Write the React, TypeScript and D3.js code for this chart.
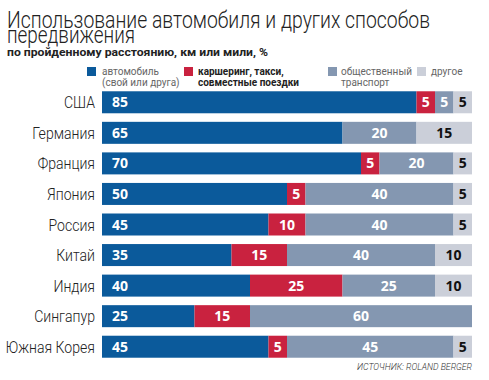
import React from "react";
import * as d3 from "d3";

const countries = ["США", "Германия", "Франция", "Япония", "Россия", "Китай", "Индия", "Сингапур", "Южная Корея"];
const car = [85, 65, 70, 50, 45, 35, 40, 25, 45];
const sharing = [5, 0, 5, 5, 10, 15, 25, 15, 5];
const transit = [5, 20, 20, 40, 40, 40, 25, 60, 45];
const other = [5, 15, 5, 5, 5, 10, 10, 0, 5];
const seriesNames = ["car", "sharing", "transit", "other"];
const colors = ["#0b5a9b", "#c9223f", "#8497b1", "#cbcfd9"];
const labelColors = ["#fff", "#fff", "#fff", "#111"];

const W = 489, H = 380;

export default function App() {
  const data = countries.map((c, i) => ({ country: c, car: car[i], sharing: sharing[i], transit: transit[i], other: other[i] }));
  const stack = d3.stack<any>().keys(seriesNames)(data);
  const x = d3.scaleLinear().domain([0, 100]).range([102, 472]);
  const y = d3.scaleBand().domain(countries).range([87, 362]).paddingInner(0.28).paddingOuter(0.14);
  const font = "Roboto, 'Open Sans', sans-serif";
  const numFont = "'Open Sans', sans-serif";
  return (
    <svg width={W} height={H} style={{ position: "absolute", left: 0, top: 0, background: "#fff" }}>
      <text x={7} y={28} fontFamily={font} fontWeight={300} fontSize={23} fill="#222" textLength={423} lengthAdjust="spacingAndGlyphs">Использование автомобиля и других способов</text>
      <text x={7} y={43} fontFamily={font} fontWeight={300} fontSize={23} fill="#222" textLength={128} lengthAdjust="spacingAndGlyphs">передвижения</text>
      <text x={7} y={56} fontFamily={font} fontWeight={700} fontSize={11.5} fill="#222" textLength={261} lengthAdjust="spacingAndGlyphs">по пройденному расстоянию, км или мили, %</text>
      {/* legend */}
      <g fontFamily={font} fontSize={10}>
        <rect x={87} y={67} width={9} height={9} fill={colors[0]} />
        <text x={102} y={75} fill="#666">автомобиль</text>
        <text x={102} y={86} fill="#666">(свой или друга)</text>
        <rect x={184} y={67} width={9} height={9} fill={colors[1]} />
        <text x={198} y={75} fill="#222" fontWeight={700}>каршеринг, такси,</text>
        <text x={198} y={86} fill="#222" fontWeight={700}>совместные поездки</text>
        <rect x={328} y={67} width={9} height={9} fill={colors[2]} />
        <text x={341} y={75} fill="#666">общественный</text>
        <text x={341} y={86} fill="#666">транспорт</text>
        <rect x={417} y={67} width={9} height={9} fill={colors[3]} />
        <text x={431} y={75} fill="#666">другое</text>
      </g>
      {countries.map((c) => (
        <g key={c} transform={`translate(95,${(y(c) as number) + y.bandwidth() / 2 + 6}) scale(0.88,1)`}>
          <text x={0} y={0} textAnchor="end" fontFamily={font} fontWeight={300} fontSize={16} fill="#222">{c}</text>
        </g>
      ))}
      {stack.map((s, si) => (
        <g key={s.key}>
          {s.map((d, i) => {
            const v = d[1] - d[0];
            if (v <= 0) return null;
            const x0 = x(d[0]), x1 = x(d[1]);
            const yy = y(countries[i]) as number;
            const cx = si === 0 ? x0 + 10 : (x0 + x1) / 2;
            return (
              <g key={i}>
                <rect x={x0} y={yy} width={x1 - x0} height={y.bandwidth()} fill={colors[si]} />
                <text x={cx} y={yy + y.bandwidth() / 2 + 5} textAnchor={si === 0 ? "start" : "middle"} fontFamily={numFont} fontWeight={700} fontSize={14} fill={labelColors[si]}>{v}</text>
              </g>
            );
          })}
        </g>
      ))}
      <text x={472} y={370} textAnchor="end" fontFamily={font} fontWeight={300} fontSize={9.5} fontStyle="italic" fill="#333" textLength={115} lengthAdjust="spacingAndGlyphs">ИСТОЧНИК: ROLAND BERGER</text>
    </svg>
  );
}
